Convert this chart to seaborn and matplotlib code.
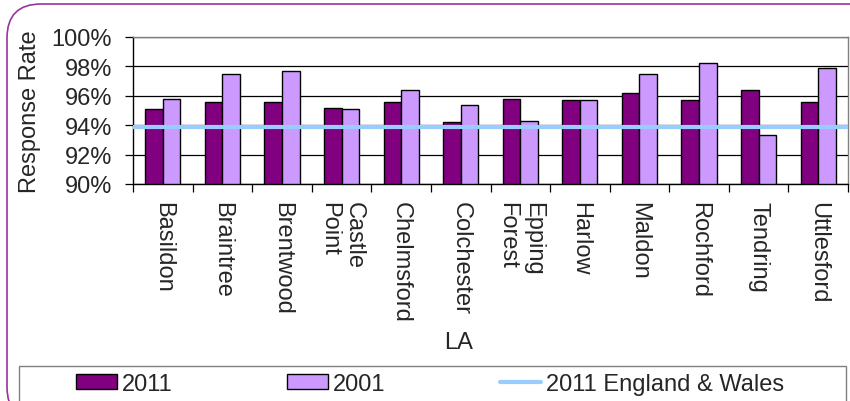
import matplotlib
matplotlib.use('Agg')
from matplotlib import pyplot as plt
from matplotlib.patches import FancyBboxPatch, Rectangle
from matplotlib.ticker import PercentFormatter, FixedLocator
import pandas as pd
import seaborn as sns


LAS = ['Basildon', 'Braintree', 'Brentwood', 'Castle\nPoint', 'Chelmsford',
       'Colchester', 'Epping\nForest', 'Harlow', 'Maldon', 'Rochford',
       'Tendring', 'Uttlesford']
RATE_2011 = [95.1, 95.6, 95.6, 95.2, 95.6, 94.2, 95.8, 95.7, 96.2, 95.7, 96.4, 95.6]
RATE_2001 = [95.8, 97.5, 97.7, 95.1, 96.4, 95.4, 94.3, 95.7, 97.5, 98.2, 93.3, 97.9]
ENGLAND_WALES_2011 = 93.9
Y_TICKS = [90, 92, 94, 96, 98, 100]

DARK = '#800080'
LIGHT = '#CC99FF'
LINE = '#99CCFF'
FS = 17

sns.set_style('white')
plt.rcParams['font.family'] = ['Liberation Sans', 'DejaVu Sans']

data = pd.DataFrame({
    'LA': LAS * 2,
    'Year': ['2011'] * len(LAS) + ['2001'] * len(LAS),
    'Response Rate': RATE_2011 + RATE_2001,
})

W, H = 850, 402
fig = plt.figure(figsize=(W / 100, H / 100), dpi=100)

# rounded outer frame and legend box
fig.patches.append(FancyBboxPatch(
    (7 / W, -20 / H), 900 / W, 417 / H, boxstyle='round,pad=0,rounding_size=0.04',
    transform=fig.transFigure, fill=False, edgecolor='#993399', linewidth=1.2,
    mutation_aspect=W / H))
fig.patches.append(Rectangle(
    (19 / W, -5 / H), (846 - 19) / W, (402 + 5 - 367) / H,
    transform=fig.transFigure, fill=False, edgecolor='#808080', linewidth=1))

ax = fig.add_axes([133 / W, 1 - 185 / H, (848 - 133) / W, 147 / H])
sns.barplot(data=data, x='LA', y='Response Rate', hue='Year',
            hue_order=['2011', '2001'], palette=[DARK, LIGHT],
            width=0.59, gap=0, edgecolor='black', linewidth=1,
            saturation=1, ax=ax, legend=True)
ax.axhline(ENGLAND_WALES_2011, color=LINE, linewidth=3.0,
           label='2011 England & Wales', zorder=5)

ax.set_ylim(Y_TICKS[0], Y_TICKS[-1])
ax.set_yticks(Y_TICKS)
ax.yaxis.set_major_formatter(PercentFormatter(decimals=0))
ax.set_xlim(-0.5, len(LAS) - 0.5)
ax.grid(axis='y', color='black', linewidth=0.9)
ax.set_axisbelow(True)

# tick marks between categories, labels at category centres
ax.xaxis.set_major_locator(FixedLocator([i - 0.5 for i in range(len(LAS) + 1)]))
ax.xaxis.set_major_formatter(plt.NullFormatter())
ax.xaxis.set_minor_locator(FixedLocator(range(len(LAS))))
ax.set_xticklabels(LAS, minor=True, rotation=270, fontsize=FS,
                   ha='center', va='top', multialignment='left')
ax.tick_params(axis='x', which='minor', length=0, pad=12)
ax.tick_params(axis='x', which='major', length=6, width=0.9, color='black',
               direction='out', bottom=True)
ax.tick_params(axis='y', length=6, width=0.9, color='black', direction='out',
               left=True, labelsize=FS, pad=9)

for side in ['top', 'right']:
    ax.spines[side].set_color('#808080')
for side in ['left', 'bottom']:
    ax.spines[side].set_color('black')
for s in ax.spines.values():
    s.set_linewidth(1)

ax.set_ylabel('Response Rate', fontsize=FS)
ax.yaxis.set_label_coords(-0.128, 0.5)
ax.set_xlabel('LA', fontsize=FS)
ax.xaxis.set_label_coords((459 - 133) / 715, -1.0)

handles, labels = ax.get_legend_handles_labels()
ax.legend_.remove()
fig.legend(handles, labels, loc='center left',
           bbox_to_anchor=(76 / W, 1 - 385 / H), ncol=3, frameon=False,
           fontsize=FS, handlelength=1.74, handleheight=0.6,
           handletextpad=0.21, columnspacing=4.85, borderpad=0,
           borderaxespad=0)

fig.savefig('out.png', dpi=100)
